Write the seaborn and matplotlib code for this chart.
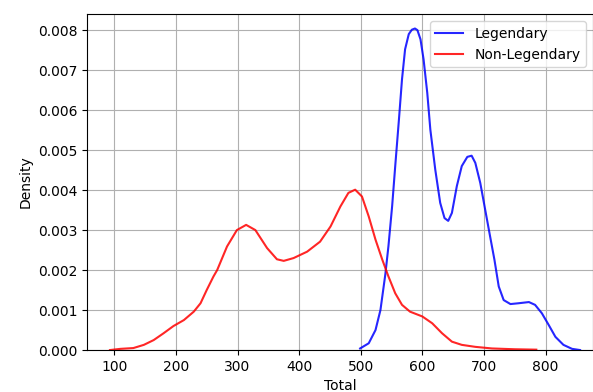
import numpy as np
import pandas as pd
import matplotlib
matplotlib.use("Agg")
import matplotlib.pyplot as plt
import seaborn as sns

# density curves (Total vs Density)
legend_x = [499, 513, 524, 532, 540, 545, 551, 556, 562, 567, 572, 578, 583, 588, 592,
            597, 602, 608, 613, 621, 629, 636, 642, 648, 656, 664, 673, 680, 686, 694,
            702, 710, 717, 724, 732, 743, 756, 773, 783, 794, 805, 816, 829, 843, 856]
legend_y = [0.00004, 0.00017, 0.0005, 0.001, 0.0019, 0.0026, 0.0036, 0.0046, 0.00576,
            0.00677, 0.00752, 0.0079, 0.00801, 0.00804, 0.008, 0.00777, 0.00727, 0.00643,
            0.00551, 0.00451, 0.00368, 0.0033, 0.00323, 0.00343, 0.0041, 0.0046, 0.00483,
            0.00486, 0.00468, 0.00418, 0.00351, 0.00284, 0.00226, 0.00159, 0.00125,
            0.00115, 0.00117, 0.0012, 0.00113, 0.00092, 0.00063, 0.00033, 0.00013,
            0.00003, 0.0]

nonleg_x = [93, 110, 131, 148, 164, 180, 196, 213, 229, 240, 250, 261, 267, 283, 299,
            314, 329, 348, 364, 375, 391, 413, 434, 451, 467, 480, 491, 502, 513, 524,
            535, 545, 556, 567, 580, 600, 616, 632, 648, 664, 686, 713, 750, 785]
nonleg_y = [0.0, 0.00003, 0.00005, 0.00013, 0.00025, 0.00042, 0.0006, 0.00075, 0.00096,
            0.00117, 0.0015, 0.00184, 0.002, 0.00259, 0.003, 0.00313, 0.003, 0.00255,
            0.00227, 0.00223, 0.0023, 0.00246, 0.00271, 0.00309, 0.00359, 0.00393,
            0.00401, 0.00384, 0.00334, 0.00276, 0.00226, 0.00184, 0.00142, 0.00113,
            0.00096, 0.00084, 0.00067, 0.00042, 0.00021, 0.00013, 0.00008, 0.00004,
            0.00002, 0.00001]

df_leg = pd.DataFrame({"Total": legend_x, "Density": legend_y})
df_non = pd.DataFrame({"Total": nonleg_x, "Density": nonleg_y})

fig = plt.figure(figsize=(5.93, 3.92), dpi=100)
ax = fig.add_axes([0.147, 0.107, 0.853, 0.857])

sns.lineplot(data=df_leg, x="Total", y="Density", color="blue", alpha=0.85,
             label="Legendary", ax=ax)
sns.lineplot(data=df_non, x="Total", y="Density", color="red", alpha=0.85,
             label="Non-Legendary", ax=ax)

ax.set_xlim(56, 877)
ax.set_ylim(0, 0.0084)
ax.set_xticks([100, 200, 300, 400, 500, 600, 700, 800])
ax.set_yticks(np.arange(0, 0.0081, 0.001))
ax.yaxis.set_major_formatter(matplotlib.ticker.FormatStrFormatter("%.3f"))
ax.grid(True)
ax.set_xlabel("Total")
ax.set_ylabel("Density")
ax.legend(loc="upper right")

fig.savefig("out.png", dpi=100)
